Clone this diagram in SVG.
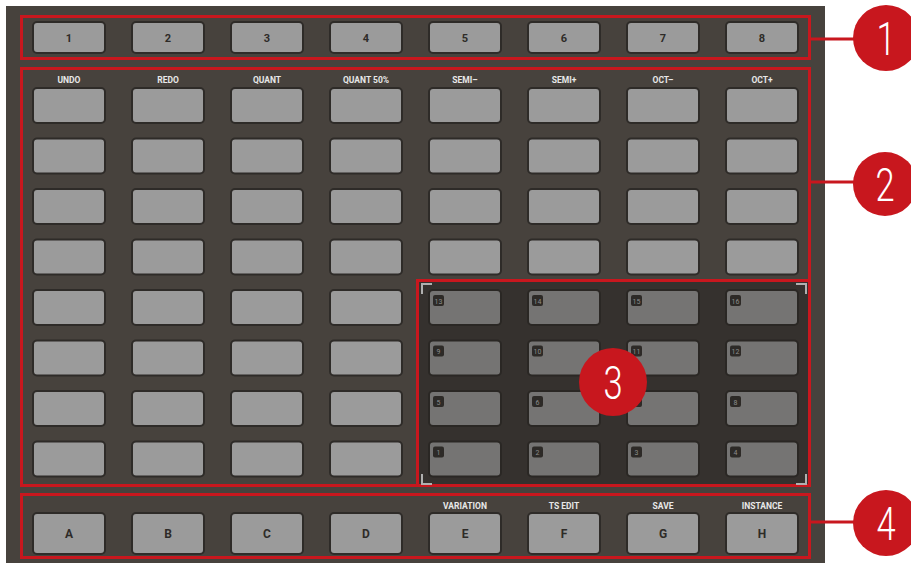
<svg xmlns="http://www.w3.org/2000/svg" width="911" height="563" viewBox="0 0 911 563">
<style>
.panel{fill:#47423d}
.btn{fill:#9b9b9b;stroke:#2e2b28;stroke-width:2}
.pad{fill:#757473;stroke:#2a2724;stroke-width:2}
.box{fill:none;stroke:#c8171e;stroke-width:3}
.lead{stroke:#c8171e;stroke-width:3;fill:none}
.lbl{font-family:Roboto,"Liberation Sans",sans-serif;font-weight:700;font-size:8.5px;fill:#e8e8e8;text-anchor:middle}
.num{font-family:Roboto,"Liberation Sans",sans-serif;font-weight:700;font-size:11px;fill:#2e2b28;text-anchor:middle}
.let{font-family:Roboto,"Liberation Sans",sans-serif;font-weight:700;font-size:12px;fill:#2e2b28;text-anchor:middle}
.badge{fill:#2d2a27}
.bt{font-family:Roboto,"Liberation Sans",sans-serif;font-size:7px;fill:#8c8c8c;text-anchor:middle}
.cor{fill:none;stroke:#b0b0b0;stroke-width:2}
.circ{fill:#c8171e}
.ct{font-family:Roboto,"Liberation Sans",sans-serif;font-weight:300;font-size:46px;fill:#ffffff;text-anchor:middle}
</style>
<rect class="panel" x="6" y="6" width="819" height="557"/>
<rect x="417" y="280" width="393" height="206" fill="#35312e"/>

<g id="section1">
<rect class="box" x="21.5" y="16.5" width="788" height="42"/>
<g id="btn-1"><rect class="btn" x="33" y="22" width="72" height="31" rx="4"/><text class="num" x="69" y="42">1</text></g>
<g id="btn-2"><rect class="btn" x="132" y="22" width="72" height="31" rx="4"/><text class="num" x="168" y="42">2</text></g>
<g id="btn-3"><rect class="btn" x="231" y="22" width="72" height="31" rx="4"/><text class="num" x="267" y="42">3</text></g>
<g id="btn-4"><rect class="btn" x="330" y="22" width="72" height="31" rx="4"/><text class="num" x="366" y="42">4</text></g>
<g id="btn-5"><rect class="btn" x="429" y="22" width="72" height="31" rx="4"/><text class="num" x="465" y="42">5</text></g>
<g id="btn-6"><rect class="btn" x="528" y="22" width="72" height="31" rx="4"/><text class="num" x="564" y="42">6</text></g>
<g id="btn-7"><rect class="btn" x="627" y="22" width="72" height="31" rx="4"/><text class="num" x="663" y="42">7</text></g>
<g id="btn-8"><rect class="btn" x="726" y="22" width="72" height="31" rx="4"/><text class="num" x="762" y="42">8</text></g>
</g>

<g id="section2">
<rect class="box" x="21.5" y="68.5" width="788" height="417"/>
<g id="labels2">
<text class="lbl" x="69" y="83">UNDO</text>
<text class="lbl" x="168" y="83">REDO</text>
<text class="lbl" x="267" y="83">QUANT</text>
<text class="lbl" x="366" y="83">QUANT 50%</text>
<text class="lbl" x="465" y="83">SEMI–</text>
<text class="lbl" x="564" y="83">SEMI+</text>
<text class="lbl" x="663" y="83">OCT–</text>
<text class="lbl" x="762" y="83">OCT+</text>
</g>
<g id="grid-buttons">
<rect class="btn" x="33" y="88" width="72" height="35" rx="4"/><rect class="btn" x="132" y="88" width="72" height="35" rx="4"/><rect class="btn" x="231" y="88" width="72" height="35" rx="4"/><rect class="btn" x="330" y="88" width="72" height="35" rx="4"/><rect class="btn" x="429" y="88" width="72" height="35" rx="4"/><rect class="btn" x="528" y="88" width="72" height="35" rx="4"/><rect class="btn" x="627" y="88" width="72" height="35" rx="4"/><rect class="btn" x="726" y="88" width="72" height="35" rx="4"/>
<rect class="btn" x="33" y="138.5" width="72" height="35" rx="4"/><rect class="btn" x="132" y="138.5" width="72" height="35" rx="4"/><rect class="btn" x="231" y="138.5" width="72" height="35" rx="4"/><rect class="btn" x="330" y="138.5" width="72" height="35" rx="4"/><rect class="btn" x="429" y="138.5" width="72" height="35" rx="4"/><rect class="btn" x="528" y="138.5" width="72" height="35" rx="4"/><rect class="btn" x="627" y="138.5" width="72" height="35" rx="4"/><rect class="btn" x="726" y="138.5" width="72" height="35" rx="4"/>
<rect class="btn" x="33" y="189" width="72" height="35" rx="4"/><rect class="btn" x="132" y="189" width="72" height="35" rx="4"/><rect class="btn" x="231" y="189" width="72" height="35" rx="4"/><rect class="btn" x="330" y="189" width="72" height="35" rx="4"/><rect class="btn" x="429" y="189" width="72" height="35" rx="4"/><rect class="btn" x="528" y="189" width="72" height="35" rx="4"/><rect class="btn" x="627" y="189" width="72" height="35" rx="4"/><rect class="btn" x="726" y="189" width="72" height="35" rx="4"/>
<rect class="btn" x="33" y="239.5" width="72" height="35" rx="4"/><rect class="btn" x="132" y="239.5" width="72" height="35" rx="4"/><rect class="btn" x="231" y="239.5" width="72" height="35" rx="4"/><rect class="btn" x="330" y="239.5" width="72" height="35" rx="4"/><rect class="btn" x="429" y="239.5" width="72" height="35" rx="4"/><rect class="btn" x="528" y="239.5" width="72" height="35" rx="4"/><rect class="btn" x="627" y="239.5" width="72" height="35" rx="4"/><rect class="btn" x="726" y="239.5" width="72" height="35" rx="4"/>
<rect class="btn" x="33" y="290" width="72" height="35" rx="4"/><rect class="btn" x="132" y="290" width="72" height="35" rx="4"/><rect class="btn" x="231" y="290" width="72" height="35" rx="4"/><rect class="btn" x="330" y="290" width="72" height="35" rx="4"/>
<rect class="btn" x="33" y="340.5" width="72" height="35" rx="4"/><rect class="btn" x="132" y="340.5" width="72" height="35" rx="4"/><rect class="btn" x="231" y="340.5" width="72" height="35" rx="4"/><rect class="btn" x="330" y="340.5" width="72" height="35" rx="4"/>
<rect class="btn" x="33" y="391" width="72" height="35" rx="4"/><rect class="btn" x="132" y="391" width="72" height="35" rx="4"/><rect class="btn" x="231" y="391" width="72" height="35" rx="4"/><rect class="btn" x="330" y="391" width="72" height="35" rx="4"/>
<rect class="btn" x="33" y="441.5" width="72" height="35" rx="4"/><rect class="btn" x="132" y="441.5" width="72" height="35" rx="4"/><rect class="btn" x="231" y="441.5" width="72" height="35" rx="4"/><rect class="btn" x="330" y="441.5" width="72" height="35" rx="4"/>
</g>
</g>

<g id="section3">
<rect class="box" x="417.5" y="280.5" width="392" height="205"/>
<path class="cor" d="M422 294V284H432 M796 284H806V294 M422 474V484H432 M796 484H806V474"/>
<g id="pad-13"><rect class="pad" x="429" y="290" width="72" height="35" rx="4"/><rect class="badge" x="433" y="295" width="11" height="11" rx="2"/><text class="bt" x="438.5" y="303.5">13</text></g>
<g id="pad-14"><rect class="pad" x="528" y="290" width="72" height="35" rx="4"/><rect class="badge" x="532" y="295" width="11" height="11" rx="2"/><text class="bt" x="537.5" y="303.5">14</text></g>
<g id="pad-15"><rect class="pad" x="627" y="290" width="72" height="35" rx="4"/><rect class="badge" x="631" y="295" width="11" height="11" rx="2"/><text class="bt" x="636.5" y="303.5">15</text></g>
<g id="pad-16"><rect class="pad" x="726" y="290" width="72" height="35" rx="4"/><rect class="badge" x="730" y="295" width="11" height="11" rx="2"/><text class="bt" x="735.5" y="303.5">16</text></g>
<g id="pad-9"><rect class="pad" x="429" y="340.5" width="72" height="35" rx="4"/><rect class="badge" x="433" y="345.5" width="11" height="11" rx="2"/><text class="bt" x="438.5" y="354">9</text></g>
<g id="pad-10"><rect class="pad" x="528" y="340.5" width="72" height="35" rx="4"/><rect class="badge" x="532" y="345.5" width="11" height="11" rx="2"/><text class="bt" x="537.5" y="354">10</text></g>
<g id="pad-11"><rect class="pad" x="627" y="340.5" width="72" height="35" rx="4"/><rect class="badge" x="631" y="345.5" width="11" height="11" rx="2"/><text class="bt" x="636.5" y="354">11</text></g>
<g id="pad-12"><rect class="pad" x="726" y="340.5" width="72" height="35" rx="4"/><rect class="badge" x="730" y="345.5" width="11" height="11" rx="2"/><text class="bt" x="735.5" y="354">12</text></g>
<g id="pad-5"><rect class="pad" x="429" y="391" width="72" height="35" rx="4"/><rect class="badge" x="433" y="396" width="11" height="11" rx="2"/><text class="bt" x="438.5" y="404.5">5</text></g>
<g id="pad-6"><rect class="pad" x="528" y="391" width="72" height="35" rx="4"/><rect class="badge" x="532" y="396" width="11" height="11" rx="2"/><text class="bt" x="537.5" y="404.5">6</text></g>
<g id="pad-7"><rect class="pad" x="627" y="391" width="72" height="35" rx="4"/><rect class="badge" x="631" y="396" width="11" height="11" rx="2"/><text class="bt" x="636.5" y="404.5">7</text></g>
<g id="pad-8"><rect class="pad" x="726" y="391" width="72" height="35" rx="4"/><rect class="badge" x="730" y="396" width="11" height="11" rx="2"/><text class="bt" x="735.5" y="404.5">8</text></g>
<g id="pad-1"><rect class="pad" x="429" y="441.5" width="72" height="35" rx="4"/><rect class="badge" x="433" y="446.5" width="11" height="11" rx="2"/><text class="bt" x="438.5" y="455">1</text></g>
<g id="pad-2"><rect class="pad" x="528" y="441.5" width="72" height="35" rx="4"/><rect class="badge" x="532" y="446.5" width="11" height="11" rx="2"/><text class="bt" x="537.5" y="455">2</text></g>
<g id="pad-3"><rect class="pad" x="627" y="441.5" width="72" height="35" rx="4"/><rect class="badge" x="631" y="446.5" width="11" height="11" rx="2"/><text class="bt" x="636.5" y="455">3</text></g>
<g id="pad-4"><rect class="pad" x="726" y="441.5" width="72" height="35" rx="4"/><rect class="badge" x="730" y="446.5" width="11" height="11" rx="2"/><text class="bt" x="735.5" y="455">4</text></g>
</g>

<g id="section4">
<rect class="box" x="21.5" y="494.5" width="788" height="63"/>
<text class="lbl" x="465" y="509">VARIATION</text>
<text class="lbl" x="564" y="509">TS EDIT</text>
<text class="lbl" x="663" y="509">SAVE</text>
<text class="lbl" x="762" y="509">INSTANCE</text>
<g id="btn-A"><rect class="btn" x="33" y="513" width="72" height="41" rx="4"/><text class="let" x="69" y="538">A</text></g>
<g id="btn-B"><rect class="btn" x="132" y="513" width="72" height="41" rx="4"/><text class="let" x="168" y="538">B</text></g>
<g id="btn-C"><rect class="btn" x="231" y="513" width="72" height="41" rx="4"/><text class="let" x="267" y="538">C</text></g>
<g id="btn-D"><rect class="btn" x="330" y="513" width="72" height="41" rx="4"/><text class="let" x="366" y="538">D</text></g>
<g id="btn-E"><rect class="btn" x="429" y="513" width="72" height="41" rx="4"/><text class="let" x="465" y="538">E</text></g>
<g id="btn-F"><rect class="btn" x="528" y="513" width="72" height="41" rx="4"/><text class="let" x="564" y="538">F</text></g>
<g id="btn-G"><rect class="btn" x="627" y="513" width="72" height="41" rx="4"/><text class="let" x="663" y="538">G</text></g>
<g id="btn-H"><rect class="btn" x="726" y="513" width="72" height="41" rx="4"/><text class="let" x="762" y="538">H</text></g>
</g>

<g id="connectors">
<line class="lead" x1="811" y1="39" x2="856" y2="39"/>
<line class="lead" x1="811" y1="182" x2="856" y2="182"/>
<line class="lead" x1="811" y1="522" x2="856" y2="522"/>
</g>

<g id="callout-1"><circle class="circ" cx="886" cy="38" r="33"/><text class="ct" transform="translate(886,55) scale(0.75,1)">1</text></g>
<g id="callout-2"><circle class="circ" cx="885" cy="184" r="32"/><text class="ct" transform="translate(885,201) scale(0.75,1)">2</text></g>
<g id="callout-3"><circle class="circ" cx="613" cy="382" r="34"/><text class="ct" transform="translate(613,399) scale(0.75,1)">3</text></g>
<g id="callout-4"><circle class="circ" cx="886" cy="523" r="33"/><text class="ct" transform="translate(886,540) scale(0.75,1)">4</text></g>
</svg>
